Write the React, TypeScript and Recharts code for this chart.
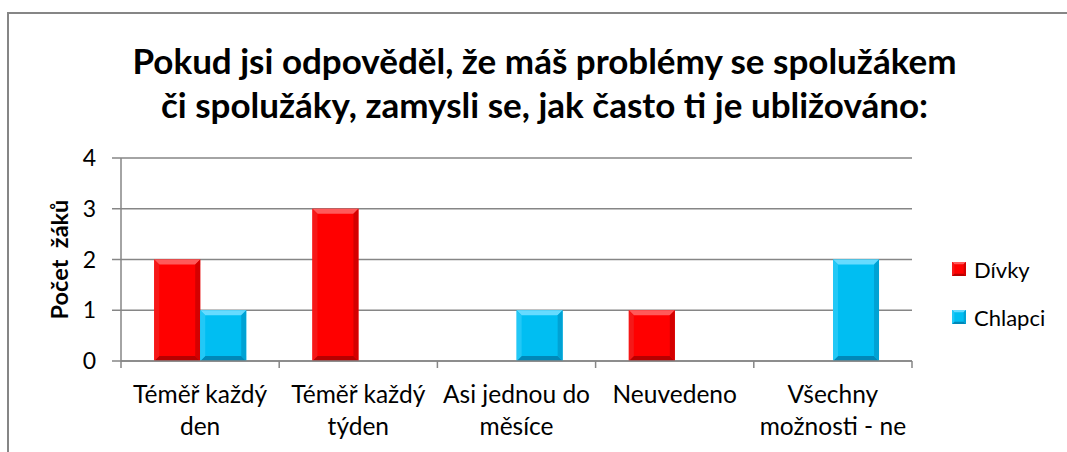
import React from 'react';
import { BarChart, Bar, XAxis, YAxis, CartesianGrid, Legend } from 'recharts';

const categories = [
  'Téměř každý\nden',
  'Téměř každý\ntýden',
  'Asi jednou do\nměsíce',
  'Neuvedeno',
  'Všechny\nmožnosti - ne',
];
const divky = [2, 3, 0, 1, 0];
const chlapci = [1, 0, 1, 0, 2];
const yTicks = [0, 1, 2, 3, 4];
const seriesNames = ['Dívky', 'Chlapci'];
const titleLines = [
  'Pokud jsi odpověděl, že máš problémy se spolužákem',
  'či spolužáky, zamysli se, jak často ti je ubližováno:',
];

const data = categories.map((c, i) => ({ name: c, divky: divky[i], chlapci: chlapci[i] }));

const FONT = 'Lato, "Open Sans", sans-serif';
const GRID = '#868686';

const palettes: Record<string, { base: string; top: string; bottom: string; left: string; right: string }> = {
  red: { base: '#FF0000', top: '#FF5A5A', bottom: '#B80000', left: '#F51818', right: '#D40000' },
  blue: { base: '#00BEF2', top: '#66DBFF', bottom: '#0088B8', left: '#22C8F6', right: '#00A2D4' },
};

const Bevel = (props: any) => {
  const { x, y, width, height, pal } = props;
  if (!height || height <= 0) return null;
  const p = palettes[pal];
  const b = Math.min(5, width / 6, height / 4);
  const x2 = x + width;
  const y2 = y + height;
  return (
    <g>
      <rect x={x} y={y} width={width} height={height} fill={p.base} />
      <polygon points={`${x},${y} ${x2},${y} ${x2 - b},${y + b} ${x + b},${y + b}`} fill={p.top} />
      <polygon points={`${x},${y2} ${x2},${y2} ${x2 - b},${y2 - b} ${x + b},${y2 - b}`} fill={p.bottom} />
      <polygon points={`${x},${y} ${x + b},${y + b} ${x + b},${y2 - b} ${x},${y2}`} fill={p.left} />
      <polygon points={`${x2},${y} ${x2 - b},${y + b} ${x2 - b},${y2 - b} ${x2},${y2}`} fill={p.right} />
    </g>
  );
};

const XTick = (props: any) => {
  const { x, y, payload, index, visibleTicksCount } = props;
  const off = payload.offset || 0;
  const lines = String(payload.value).split('\n');
  const last = index === visibleTicksCount - 1;
  return (
    <g>
      <line x1={x - off} x2={x - off} y1={y} y2={y + 7} stroke={GRID} strokeWidth={1.5} />
      {last && <line x1={x + off} x2={x + off} y1={y} y2={y + 7} stroke={GRID} strokeWidth={1.5} />}
      {lines.map((l, i) => (
        <text key={i} x={x} y={y + 42 + i * 32} textAnchor="middle" fontSize={24.5} fill="#000" fontFamily={FONT}>
          {l}
        </text>
      ))}
    </g>
  );
};

const LegendContent = () => {
  const items = [
    { name: seriesNames[0], pal: 'red' },
    { name: seriesNames[1], pal: 'blue' },
  ];
  return (
    <div style={{ fontFamily: FONT }}>
      {items.map((it, i) => (
        <div key={i} style={{ display: 'flex', alignItems: 'center', height: 28, marginBottom: i === 0 ? 20 : 0 }}>
          <svg width={14} height={14} style={{ marginRight: 8 }}>
            <Bevel x={0} y={0} width={14} height={14} pal={it.pal} />
          </svg>
          <span style={{ fontSize: 22, color: '#000' }}>{it.name}</span>
        </div>
      ))}
    </div>
  );
};

export default function App() {
  return (
    <div style={{ position: 'absolute', left: 0, top: 0, width: 1067, height: 452, background: '#fff', overflow: 'hidden' }}>
      <div
        style={{
          position: 'absolute',
          left: 7,
          top: 12,
          width: 1080,
          height: 460,
          border: `2px solid ${GRID}`,
          boxSizing: 'border-box',
        }}
      />
      <div
        style={{
          position: 'absolute',
          left: 0,
          top: 38,
          width: 1067,
          textAlign: 'center',
          fontFamily: FONT,
          fontWeight: 'bold',
          fontSize: 35,
          lineHeight: '44px',
          color: '#000',
        }}
      >
        {titleLines.map((t, i) => (
          <div key={i} style={{ paddingLeft: 22 }}>{t}</div>
        ))}
      </div>
      <div style={{ position: 'absolute', left: 0, top: 0 }}>
        <BarChart
          width={1067}
          height={452}
          data={data}
          margin={{ top: 158, right: 155, bottom: 0, left: 0 }}
          barCategoryGap="21%"
          barGap={0}
        >
          <CartesianGrid vertical={false} stroke={GRID} strokeWidth={1.5} />
          <XAxis
            dataKey="name"
            axisLine={{ stroke: GRID, strokeWidth: 1.5 }}
            tickLine={false}
            tick={<XTick />}
            tickSize={0}
            tickMargin={0}
            interval={0}
            height={91}
          />
          <YAxis
            width={121}
            domain={[0, 4]}
            ticks={yTicks}
            axisLine={{ stroke: GRID, strokeWidth: 1.5 }}
            tickLine={{ stroke: GRID, strokeWidth: 1.5 }}
            tickSize={9}
            tickMargin={16}
            tick={{ fontSize: 23, fill: '#000', fontFamily: FONT }}
            label={{
              content: (p: any) => {
                const vb = p.viewBox;
                const cx = 59;
                const cy = vb.y + vb.height / 2;
                return (
                  <text
                    x={cx}
                    y={cy}
                    transform={`rotate(-90 ${cx} ${cy})`}
                    textAnchor="middle"
                    dominantBaseline="central"
                    fontSize={23.5}
                    fontWeight="bold"
                    fontFamily={FONT}
                    fill="#000"
                    style={{ whiteSpace: 'pre' }}
                  >
                    {'Počet  žáků'}
                  </text>
                );
              },
            }}
          />
          <Legend
            layout="horizontal"
            verticalAlign="middle"
            align="center"
            content={<LegendContent />}
            wrapperStyle={{ left: 952, top: 255, width: 120 }}
          />
          <Bar dataKey="divky" name={seriesNames[0]} isAnimationActive={false} shape={<Bevel pal="red" />} />
          <Bar dataKey="chlapci" name={seriesNames[1]} isAnimationActive={false} shape={<Bevel pal="blue" />} />
        </BarChart>
      </div>
    </div>
  );
}
